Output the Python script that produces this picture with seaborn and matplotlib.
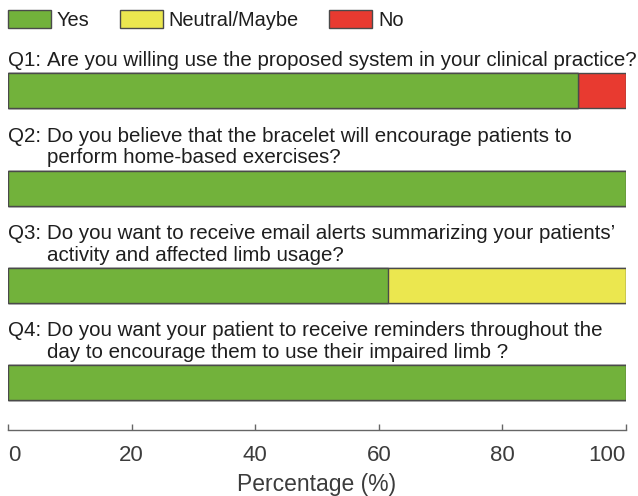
import pandas as pd
import matplotlib.pyplot as plt
import seaborn as sns
from matplotlib.patches import Patch

# survey answers (%)
questions = ["Q1", "Q2", "Q3", "Q4"]
yes = [92.3, 100, 61.5, 100]
neutral = [0, 0, 38.5, 0]
no = [7.7, 0, 0, 0]

question_lines = [
    ["Are you willing use the proposed system in your clinical practice?"],
    ["Do you believe that the bracelet will encourage patients to",
     "perform home-based exercises?"],
    ["Do you want to receive email alerts summarizing your patients\u2019",
     "activity and affected limb usage?"],
    ["Do you want your patient to receive reminders throughout the",
     "day to encourage them to use their impaired limb ?"],
]

answer_labels = ["Yes", "Neutral/Maybe", "No"]
green, yellow, red = "#72b23b", "#ebe74f", "#e83a30"
edge = "#4a4a4a"

df = pd.DataFrame({"question": questions, "yes": yes, "neutral": neutral, "no": no})
df["cum_yes"] = df["yes"]
df["cum_neutral"] = df["yes"] + df["neutral"]
df["cum_no"] = df["yes"] + df["neutral"] + df["no"]

sns.set_style("white")
plt.rcParams["font.family"] = ["Liberation Sans", "DejaVu Sans"]

fig = plt.figure(figsize=(6.38, 4.96), dpi=100)
ax = fig.add_axes([8 / 638, 66 / 496, 618 / 638, 430 / 496])

# stacked bars: draw totals first, then cover with the lower segments
for col, c in [("cum_no", red), ("cum_neutral", yellow), ("cum_yes", green)]:
    sns.barplot(data=df, x=col, y="question", orient="h", color=c, saturation=1,
                width=0.36, edgecolor=edge, linewidth=1, ax=ax)

ax.set_xlim(0, 100)
ax.set_ylim(3.49, -0.935)

# question text above each bar
qsize = 14.75
for i, lines in enumerate(question_lines):
    n = len(lines)
    for j, line in enumerate(lines):
        y = i - 0.31 - 0.22 * (n - 1 - j)
        ax.text(6.3, y, line, fontsize=qsize, color="#1e1e1e", va="center", ha="left")
    ax.text(0, i - 0.31 - 0.22 * (n - 1), questions[i] + ":", fontsize=qsize,
            color="#1e1e1e", va="center", ha="left")

sns.despine(ax=ax, left=True, top=True, right=True)
ax.spines["bottom"].set_color("#666666")
ax.spines["bottom"].set_linewidth(1)
ax.set_yticks([])
ax.set_ylabel("")
ax.set_xticks([0, 20, 40, 60, 80, 100])
ax.tick_params(axis="x", direction="in", length=4, width=1, color="#666666",
               labelsize=16, labelcolor="#3c3c3c", pad=11, bottom=True)
labels = ax.get_xticklabels()
labels[0].set_ha("left")
labels[-1].set_ha("right")
ax.set_xlabel("Percentage (%)", fontsize=16.5, color="#3c3c3c", labelpad=5)

handles = [Patch(facecolor=c, edgecolor=edge, linewidth=1) for c in (green, yellow, red)]
leg = fig.legend(handles, answer_labels, loc="upper left", bbox_to_anchor=(8 / 638, 1 - 10 / 496),
                 ncol=3, frameon=False, fontsize=14.4, handlelength=2.15, handleheight=1.0,
                 handletextpad=0.3, columnspacing=1.5, borderpad=0, borderaxespad=0)
for t in leg.get_texts():
    t.set_color("#1e1e1e")

fig.savefig("out.png", dpi=100)
